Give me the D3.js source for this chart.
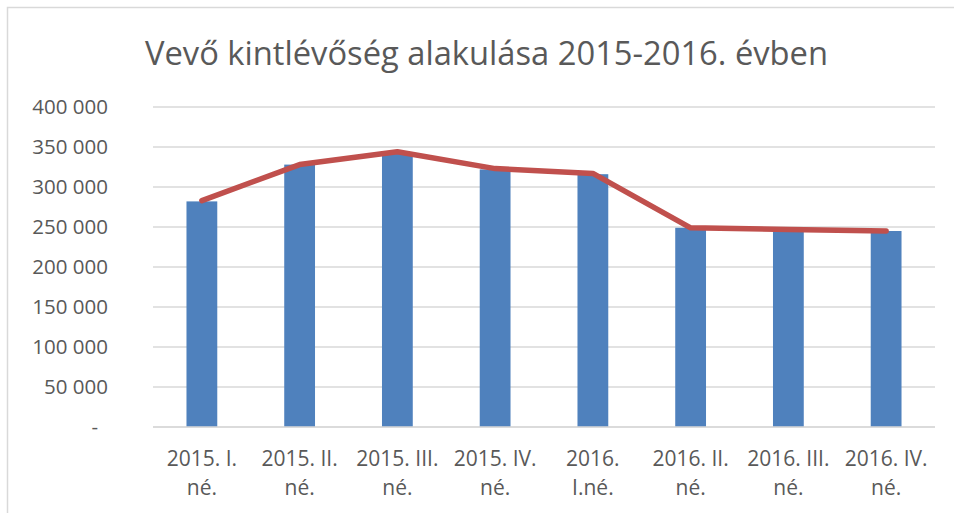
<!DOCTYPE html>
<html>
<head>
<meta charset="utf-8">
<script src="https://cdn.jsdelivr.net/npm/d3@7"></script>
<style>
  html, body { margin: 0; padding: 0; background: #fff; }
  svg { display: block; }
</style>
</head>
<body>
<svg id="chart" width="954" height="513"></svg>
<script>
const title = "Vevő kintlévőség alakulása 2015-2016. évben";
const categories = [
  ["2015. I.", "né."],
  ["2015. II.", "né."],
  ["2015. III.", "né."],
  ["2015. IV.", "né."],
  ["2016.", "I.né."],
  ["2016. II.", "né."],
  ["2016. III.", "né."],
  ["2016. IV.", "né."]
];
const barValues = [282000, 328000, 343000, 322000, 316000, 249000, 246000, 245000];
const lineValues = [283000, 328000, 344000, 323000, 317000, 249000, 247000, 245000];
const yTicks = [0, 50000, 100000, 150000, 200000, 250000, 300000, 350000, 400000];

const svg = d3.select("#chart");
const font = "'Open Sans', 'Liberation Sans', sans-serif";
const textColor = "#595959";

// chart border
svg.append("rect")
  .attr("x", 7.5).attr("y", 7.5)
  .attr("width", 960).attr("height", 520)
  .attr("fill", "none").attr("stroke", "#d9d9d9").attr("stroke-width", 1.5);

// title
svg.append("text")
  .attr("x", 486.5).attr("y", 65)
  .attr("text-anchor", "middle")
  .attr("font-family", font)
  .attr("font-size", 33)
  .attr("fill", textColor)
  .attr("textLength", 683)
  .attr("lengthAdjust", "spacingAndGlyphs")
  .text(title);

const x = d3.scaleBand()
  .domain(d3.range(categories.length))
  .range([153, 935])
  .padding(0);

const y = d3.scaleLinear()
  .domain([0, 400000])
  .range([427, 107]);

// gridlines
svg.append("g")
  .selectAll("line")
  .data(yTicks)
  .join("line")
  .attr("x1", 153).attr("x2", 935)
  .attr("y1", d => y(d)).attr("y2", d => y(d))
  .attr("stroke", "#d9d9d9")
  .attr("stroke-width", 1.3);

// y labels
const fmt = d => d === 0 ? "-" : d3.format(",")(d).replace(/,/g, " ");
svg.append("g")
  .selectAll("text")
  .data(yTicks)
  .join("text")
  .attr("x", d => d === 0 ? 98 : 108)
  .attr("y", d => y(d) + 7)
  .attr("text-anchor", "end")
  .attr("font-family", font)
  .attr("font-size", 20.5)
  .attr("fill", textColor)
  .text(fmt);

// bars
const barW = x.bandwidth() * 0.315;
svg.append("g")
  .selectAll("rect")
  .data(barValues)
  .join("rect")
  .attr("x", (d, i) => x(i) + x.bandwidth() / 2 - barW / 2)
  .attr("y", d => y(d))
  .attr("width", barW)
  .attr("height", d => y(0) - y(d))
  .attr("fill", "#4F81BD");

// axis line
svg.append("line")
  .attr("x1", 153).attr("x2", 935)
  .attr("y1", y(0)).attr("y2", y(0))
  .attr("stroke", "#d9d9d9").attr("stroke-width", 1.5);

// line series
const line = d3.line()
  .x((d, i) => x(i) + x.bandwidth() / 2)
  .y(d => y(d));
svg.append("path")
  .datum(lineValues)
  .attr("d", line)
  .attr("fill", "none")
  .attr("stroke", "#C0504D")
  .attr("stroke-width", 5.5)
  .attr("stroke-linecap", "round")
  .attr("stroke-linejoin", "round");

// x labels
const xl = svg.append("g")
  .selectAll("text")
  .data(categories)
  .join("text")
  .attr("text-anchor", "middle")
  .attr("font-family", font)
  .attr("font-size", 21)
  .attr("fill", textColor);
xl.each(function(d, i) {
  const t = d3.select(this);
  d.forEach((s, j) => {
    t.append("tspan")
      .attr("x", x(i) + x.bandwidth() / 2)
      .attr("y", 466 + j * 29)
      .text(s);
  });
});
</script>
</body>
</html>
